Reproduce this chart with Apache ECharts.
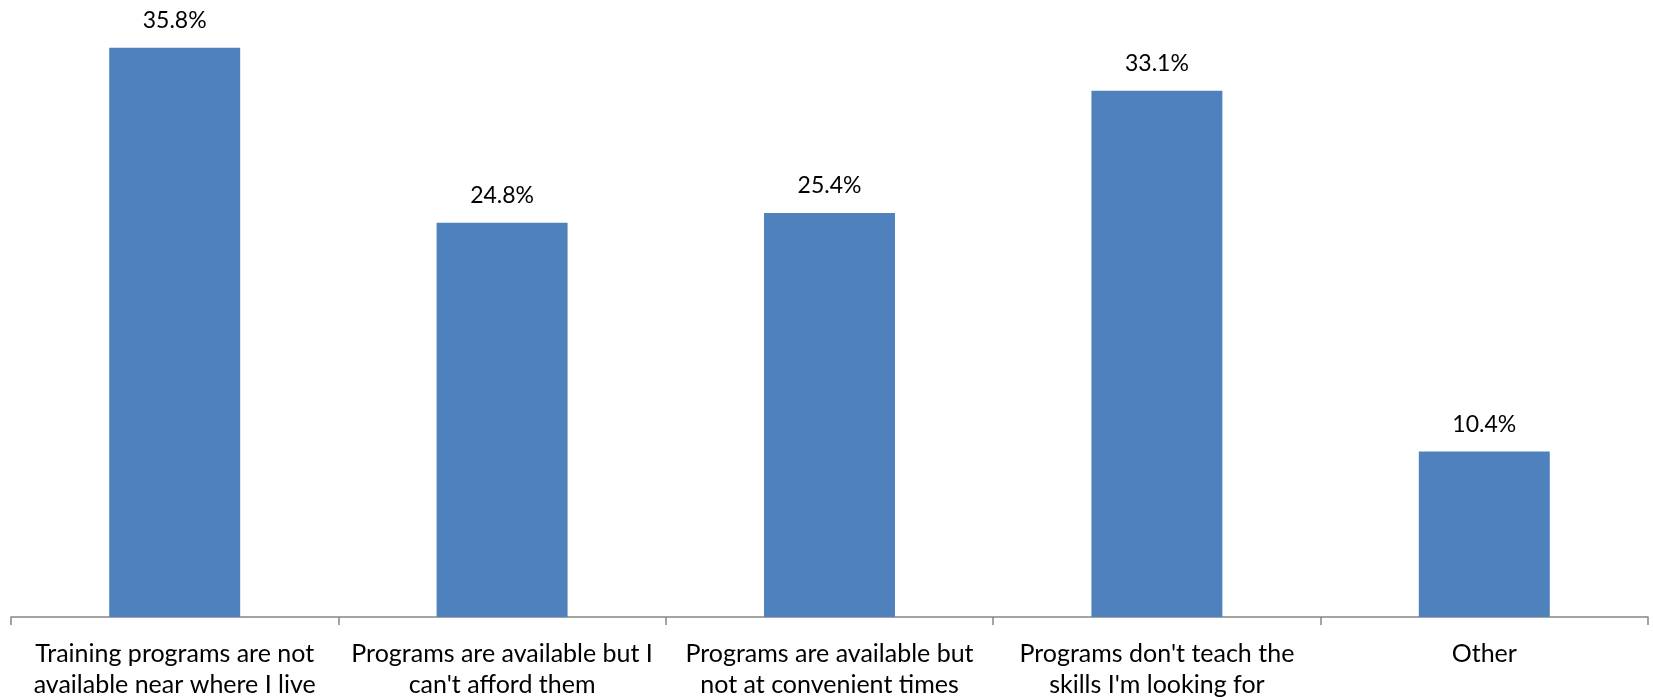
<!DOCTYPE html>
<html>
<head>
<meta charset="utf-8">
<script src="https://cdn.jsdelivr.net/npm/echarts@6/dist/echarts.min.js"></script>
<style>
  html, body { margin: 0; padding: 0; background: #fff; }
  #bar { width: 1653px; height: 700px; }
</style>
</head>
<body>
<div id="bar"></div>
<script>
// categorias (quebra de linha como no original)
const categories = [
    'Training programs are not\navailable near where I live',
    'Programs are available but I\ncan\'t afford them',
    'Programs are available but\nnot at convenient times',
    'Programs don\'t teach the\nskills I\'m looking for',
    'Other'
];
const values = [35.8, 24.8, 25.4, 33.1, 10.4];

function loadBar() {
    const bar = echarts.init(document.getElementById('bar'));

    bar.setOption({
        animation: false,
        textStyle: { fontFamily: 'Lato' },
        grid: { left: 11, right: 5, top: 0, bottom: 81 },
        xAxis: {
            type: 'category',
            data: categories,
            axisLine: { lineStyle: { color: '#868686', width: 1.5 } },
            axisTick: { show: true, length: 8, lineStyle: { color: '#868686', width: 1.5 } },
            axisLabel: {
                interval: 0,
                color: '#000',
                fontSize: 25,
                lineHeight: 31,
                margin: 21
            }
        },
        yAxis: {
            type: 'value',
            min: 0,
            max: 38.8,
            show: false,
            splitLine: { show: false }
        },
        series: [{
            type: 'bar',
            data: values,
            barWidth: '40%',
            itemStyle: { color: '#4F81BD' },
            label: {
                show: true,
                position: 'top',
                distance: 16,
                color: '#000',
                fontSize: 23,
                formatter: '{c}%'
            }
        }]
    });

    window.addEventListener('resize', () => bar.resize());
}

document.addEventListener('DOMContentLoaded', () => {
    loadBar();
});
</script>
</body>
</html>
